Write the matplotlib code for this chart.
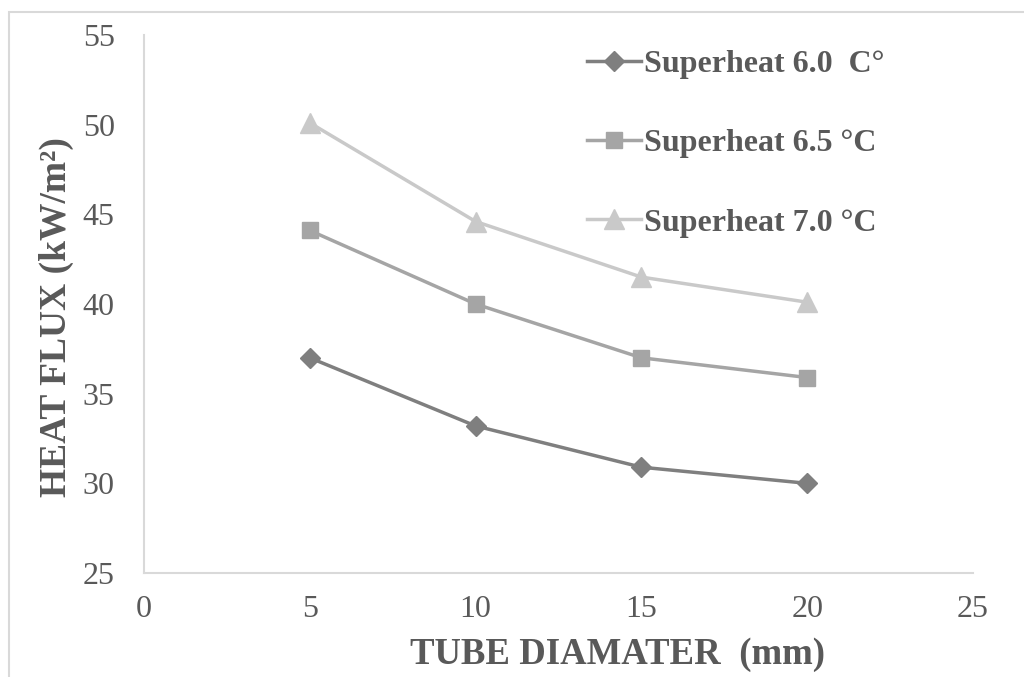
import matplotlib.pyplot as plt
from matplotlib.patches import Rectangle

# データ
diameters = [5, 10, 15, 20]
flux_60 = [37.0, 33.2, 30.9, 30.0]
flux_65 = [44.1, 40.0, 37.0, 35.9]
flux_70 = [50.1, 44.6, 41.5, 40.1]
labels = ['Superheat 6.0  C°', 'Superheat 6.5 °C', 'Superheat 7.0 °C']
x_ticks = [0, 5, 10, 15, 20, 25]
y_ticks = [25, 30, 35, 40, 45, 50, 55]

plt.rcParams['font.family'] = ['Liberation Serif', 'DejaVu Serif']
text_color = '#595959'
axis_color = '#d9d9d9'

W, H = 1024, 677
fig = plt.figure(figsize=(W / 100, H / 100), dpi=100)
ax = fig.add_axes([144 / W, 1 - 573 / H, (973 - 144) / W, (573 - 35) / H])

# 外枠
fig.patches.append(Rectangle((9 / W, -0.1), 1.2, 1 - 12 / H + 0.1,
                             transform=fig.transFigure, fill=False,
                             edgecolor=axis_color, linewidth=1.5))

ax.plot(diameters, flux_60, color='#7f7f7f', marker='D', markersize=10, linewidth=2.5, label=labels[0])
ax.plot(diameters, flux_65, color='#a5a5a5', marker='s', markersize=12, linewidth=2.5, label=labels[1])
ax.plot(diameters, flux_70, color='#c9c9c9', marker='^', markersize=14, linewidth=2.5, label=labels[2])

ax.set_xlim(0, 25)
ax.set_ylim(25, 55)
ax.set_xticks(x_ticks)
ax.set_yticks(y_ticks)
ax.tick_params(length=0, labelsize=23, labelcolor=text_color)
ax.tick_params(axis='x', pad=16)
ax.tick_params(axis='y', pad=21)
for side in ['top', 'right']:
    ax.spines[side].set_visible(False)
for side in ['left', 'bottom']:
    ax.spines[side].set_color(axis_color)
    ax.spines[side].set_linewidth(1.5)

fig.text(618 / W, 1 - 655 / H, 'TUBE DIAMATER  (mm)', fontsize=26.5, fontweight='bold',
         color=text_color, ha='center', va='center')
fig.text(56 / W, 1 - 317 / H, 'HEAT FLUX (kW/m²)', fontsize=27, fontweight='bold',
         color=text_color, ha='center', va='center', rotation=90)

leg = ax.legend(loc='upper left', bbox_to_anchor=(558 / W, 1 - 21 / H),
                bbox_transform=fig.transFigure, frameon=False,
                fontsize=23, labelspacing=1.56, handlelength=1.7, handletextpad=0.1)
for t in leg.get_texts():
    t.set_color(text_color)
    t.set_fontweight('bold')

fig.savefig('out.png', dpi=100)
